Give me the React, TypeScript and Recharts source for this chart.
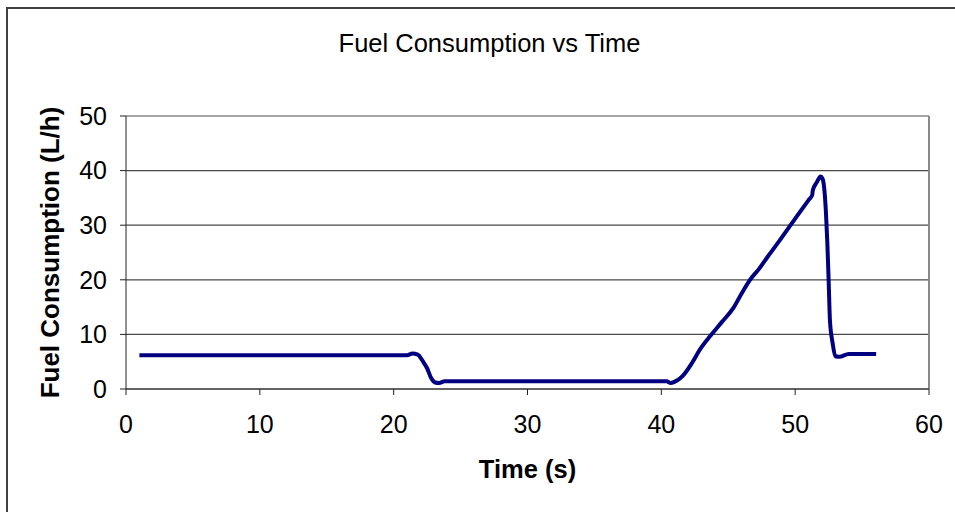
import React from 'react';
import {
  LineChart,
  Line,
  XAxis,
  YAxis,
  CartesianGrid,
  ReferenceLine
} from 'recharts';

// time (s) and fuel rate (L/h)
const times = [
  1, 5, 10, 15, 20, 21.0, 21.4, 21.8, 22.2, 22.5, 22.8, 23.1, 23.4, 23.8, 30, 35,
  40.4, 40.7, 41.2, 41.6, 42.3, 42.9, 43.65, 44.5, 45.4, 46.0, 46.6, 47.3, 48.0,
  48.9, 50.0, 51.0, 51.27, 51.32, 51.6, 51.9, 52.05, 52.2, 52.3, 52.4, 52.5, 52.6,
  52.8, 53.0, 53.3, 54.0, 56.05
];
const fuel = [
  6.2, 6.2, 6.2, 6.2, 6.2, 6.2, 6.5, 6.3, 5.0, 3.8, 2.0, 1.2, 1.1, 1.4, 1.4, 1.4,
  1.4, 1.1, 1.6, 2.4, 4.8, 7.3, 9.7, 12.2, 14.9, 17.5, 19.9, 22.0, 24.4,
  27.4, 31.2, 34.6, 35.5, 36.4, 37.8, 38.9, 38.5, 36.0, 32.3, 27, 20, 12.5,
  8.4, 6.0, 5.9, 6.4, 6.4
];
const xTicks = [0, 10, 20, 30, 40, 50, 60];
const yTicks = [0, 10, 20, 30, 40, 50];

const data = times.map((t, i) => ({ t, fuel: fuel[i] }));

const font = '"Liberation Sans", Arial, sans-serif';

export default function App() {
  return (
    <div style={{ position: 'absolute', left: 0, top: 0, width: 955, height: 512, background: '#fff', fontFamily: font }}>
      <div style={{ position: 'absolute', left: 6, top: 7, width: 949, height: 505, borderTop: '2px solid #404040', borderLeft: '2px solid #404040' }} />
      <div style={{ position: 'absolute', left: 0, top: 29, width: 955, paddingLeft: 24, boxSizing: 'border-box', textAlign: 'center', fontSize: 25.5, color: '#000' }}>
        Fuel Consumption vs Time
      </div>
      <div style={{ position: 'absolute', left: 0, top: 0 }}>
        <LineChart width={955} height={512} data={data} margin={{ top: 116, right: 26, bottom: 33, left: 0 }}>
          <CartesianGrid vertical={false} stroke="#4a4a4a" strokeWidth={1.2} />
          <ReferenceLine x={60} stroke="#8a8a8a" strokeWidth={2} />
          <XAxis
            type="number"
            dataKey="t"
            domain={[0, 60]}
            ticks={xTicks}
            height={90}
            stroke="#222"
            tickSize={6}
            tickMargin={20}
            tick={{ fill: '#000', fontSize: 25, fontFamily: font }}
            label={{ value: 'Time (s)', position: 'insideBottom', offset: 1, fill: '#000', fontSize: 25.5, fontWeight: 'bold', fontFamily: font }}
          />
          <YAxis
            type="number"
            domain={[0, 50]}
            ticks={yTicks}
            width={126}
            stroke="#222"
            tickSize={6}
            tickMargin={13}
            tick={{ fill: '#000', fontSize: 25, fontFamily: font }}
            label={{ value: 'Fuel Consumption (L/h)', angle: -90, position: 'center', dx: -13, fill: '#000', fontSize: 26, fontWeight: 'bold', fontFamily: font }}
          />
          <Line
            type="monotone"
            dataKey="fuel"
            stroke="#000080"
            strokeWidth={4}
            dot={false}
            activeDot={false}
            isAnimationActive={false}
          />
        </LineChart>
      </div>
    </div>
  );
}
